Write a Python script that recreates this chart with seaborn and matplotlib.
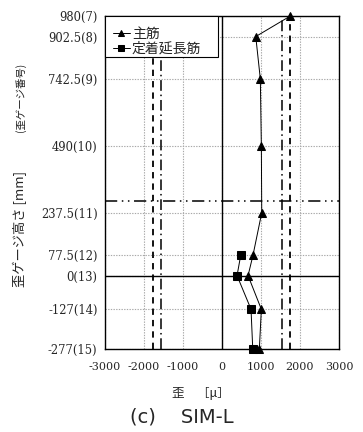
import matplotlib
matplotlib.use("Agg")
import matplotlib.pyplot as plt
from matplotlib.patches import Rectangle
import seaborn as sns
import pandas as pd

# ---- data ----
heights = [980, 902.5, 742.5, 490, 237.5, 77.5, 0, -127, -277]
gauge_no = [7, 8, 9, 10, 11, 12, 13, 14, 15]
main_strain = [1754, 870, 987, 1013, 1023, 800, 673, 1013, 962]
ext_heights = [77.5, 0, -127, -277]
ext_strain = [486, 391, 749, 793]
x_ticks = [-3000, -2000, -1000, 0, 1000, 2000, 3000]
yield_dashed = [-1750, 1750]
yield_dashdot = [-1550, 1550]
h_ref = 280
series_names = ["主筋", "定着延長筋"]

sns.set_theme(style="white")
plt.rcParams['font.family'] = ['DejaVu Serif', 'Noto Sans CJK JP']
plt.rcParams['axes.unicode_minus'] = False

fig = plt.figure(figsize=(3.63, 4.32), dpi=100)
ax = fig.add_axes([0.2879, 0.1921, 0.6460, 0.7708])

df_main = pd.DataFrame({"strain": main_strain, "height": heights})
df_ext = pd.DataFrame({"strain": ext_strain, "height": ext_heights})

# grid
for xv in x_ticks:
    ax.axvline(xv, color="#a8a8a8", lw=0.8, ls=(0, (1.2, 1.2)), zorder=0)
for yv in heights:
    ax.axhline(yv, color="#a8a8a8", lw=0.8, ls=(0, (1.2, 1.2)), zorder=0)

ax.axvline(0, color="black", lw=1.0, zorder=1)
ax.axhline(0, color="black", lw=1.0, zorder=1)
for xv in yield_dashed:
    ax.axvline(xv, color="black", lw=1.3, ls=(0, (3.5, 2.8)), zorder=1)
for xv in yield_dashdot:
    ax.axvline(xv, color="black", lw=1.1, ls=(0, (7, 2.5, 1, 2.5)), zorder=1)
ax.axhline(h_ref, color="black", lw=1.1, ls=(0, (8, 3, 1, 3, 1, 3)), zorder=1)

sns.lineplot(data=df_main, x="strain", y="height", orient="y", sort=False,
             estimator=None, ax=ax, color="black", lw=0.7, marker="^",
             markersize=5.5, markeredgecolor="black", label=series_names[0],
             zorder=3, clip_on=False)
sns.lineplot(data=df_ext, x="strain", y="height", orient="y", sort=False,
             estimator=None, ax=ax, color="black", lw=0.7, marker="s",
             markersize=5.5, markeredgecolor="black", label=series_names[1],
             zorder=3, clip_on=False)

ax.set_xlim(-3000, 3000)
ax.set_ylim(-277, 980)
ax.set_xticks(x_ticks)
ax.set_xticklabels([str(v) for v in x_ticks], fontsize=8)
ax.set_yticks(heights)
ax.set_yticklabels([f"{h:g}({n})" for h, n in zip(heights, gauge_no)], fontsize=8.3)
ax.tick_params(axis="x", length=0, pad=9)
ax.tick_params(axis="y", length=0, pad=5)
ax.set_xlabel("")
ax.set_ylabel("")
for s in ax.spines.values():
    s.set_color("black")
    s.set_linewidth(1.0)

# legend box
ax.add_patch(Rectangle((0, (349 - 57) / 333), (218 - 104.5) / 234.5, 1 - (349 - 57) / 333,
                       transform=ax.transAxes, facecolor="white", edgecolor="black",
                       lw=0.8, zorder=4, clip_on=False))
leg = ax.legend(loc="upper left", bbox_to_anchor=((113 - 104.5) / 234.5, (349 - 26.5) / 333),
                borderaxespad=0, borderpad=0, frameon=False,
                prop={"family": ["Noto Sans CJK JP"], "size": 10},
                handlelength=1.2, handletextpad=0.15, labelspacing=0.08)
leg.set_zorder(5)
for h in leg.legend_handles:
    h.set_markersize(4.5)

fig.text(19.5 / 363, 1 - 229 / 432, "歪ゲージ高さ [mm]", rotation=90,
         ha="center", va="center", fontsize=9.5, family=["Noto Sans CJK JP"])
fig.text(21 / 363, 1 - 97 / 432, "(歪ゲージ番号)", rotation=90,
         ha="center", va="center", fontsize=7.5, family=["Noto Sans CJK JP"], color="#222222")
fig.text(201 / 363, 1 - 394 / 432, "歪　［μ］", ha="center", va="center",
         fontsize=9, family=["Noto Sans CJK JP"])
fig.text(182 / 363, 1 - 417 / 432, "(c)    SIM-L", ha="center", va="center",
         fontsize=14, family=["DejaVu Sans"])

fig.savefig("out.png", dpi=100)
